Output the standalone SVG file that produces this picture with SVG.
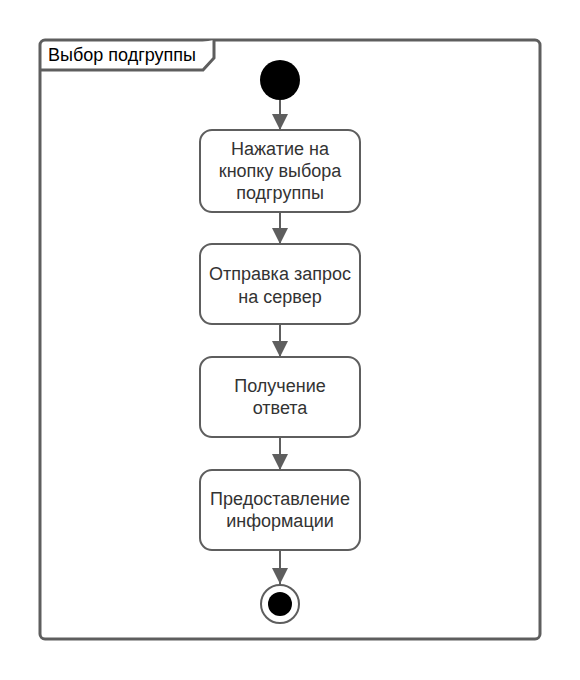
<svg xmlns="http://www.w3.org/2000/svg" width="580" height="680" viewBox="0 0 580 680">
  <defs>
    <style>
      .frame { fill: #ffffff; stroke: #5e5e5e; stroke-width: 3; }
      .tab { fill: #ffffff; stroke: #5e5e5e; stroke-width: 3; stroke-linejoin: miter; }
      .action rect { fill: #ffffff; stroke: #5e5e5e; stroke-width: 2; }
      .label { font-family: "Liberation Sans", Arial, sans-serif; font-size: 18px; fill: #333333; text-anchor: middle; }
      .title { font-family: "Liberation Sans", Arial, sans-serif; font-size: 18px; fill: #000000; }
      .flow { stroke: #5e5e5e; stroke-width: 2; fill: none; marker-end: url(#arrow); }
    </style>
    <marker id="arrow" markerWidth="20" markerHeight="16" refX="16" refY="8" orient="auto" markerUnits="userSpaceOnUse">
      <path d="M0,0 L16,8 L0,16 Z" fill="#5e5e5e"/>
    </marker>
  </defs>

  <!-- activity frame -->
  <g id="frame">
    <rect class="frame" x="40" y="40" width="500" height="599" rx="5" ry="5"/>
    <path class="tab" d="M40,70 L203,70 L214,58 L214,40"/>
    <text class="title" x="48" y="61">Выбор подгруппы</text>
  </g>

  <!-- connectors -->
  <g id="connectors">
    <line class="flow" x1="280" y1="100" x2="280" y2="130"/>
    <line class="flow" x1="280" y1="212" x2="280" y2="244"/>
    <line class="flow" x1="280" y1="324" x2="280" y2="357"/>
    <line class="flow" x1="280" y1="437" x2="280" y2="470"/>
    <line class="flow" x1="280" y1="550" x2="280" y2="584"/>
  </g>

  <g id="start">
    <circle cx="280" cy="80" r="20" fill="#000000"/>
  </g>

  <g id="action1" class="action">
    <rect x="200" y="130" width="160" height="82" rx="12" ry="12"/>
    <text class="label" x="280" y="155">Нажатие на</text>
    <text class="label" x="280" y="177">кнопку выбора</text>
    <text class="label" x="280" y="199">подгруппы</text>
  </g>

  <g id="action2" class="action">
    <rect x="200" y="244" width="160" height="80" rx="12" ry="12"/>
    <text class="label" x="280" y="280">Отправка запрос</text>
    <text class="label" x="280" y="303">на сервер</text>
  </g>

  <g id="action3" class="action">
    <rect x="200" y="357" width="160" height="80" rx="12" ry="12"/>
    <text class="label" x="280" y="392">Получение</text>
    <text class="label" x="280" y="414">ответа</text>
  </g>

  <g id="action4" class="action">
    <rect x="200" y="470" width="160" height="80" rx="12" ry="12"/>
    <text class="label" x="280" y="505">Предоставление</text>
    <text class="label" x="280" y="527">информации</text>
  </g>

  <g id="end">
    <circle cx="280" cy="604" r="19" fill="#ffffff" stroke="#5e5e5e" stroke-width="2"/>
    <circle cx="280" cy="604" r="12" fill="#000000"/>
  </g>
</svg>
